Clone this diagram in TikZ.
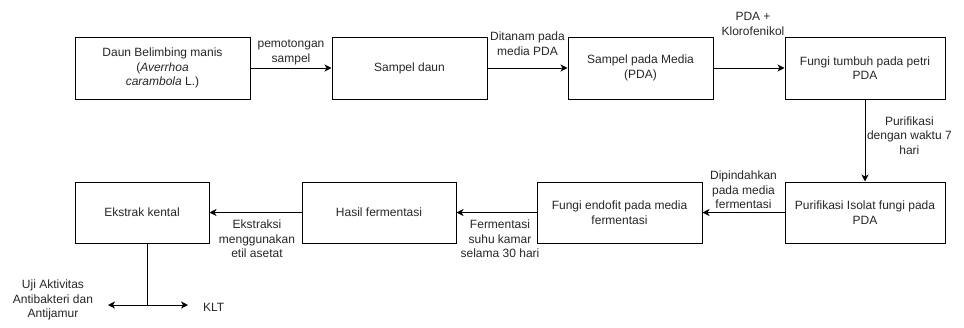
\documentclass[tikz,border=0pt]{standalone}
\usepackage{fontspec}
\setmainfont{Liberation Sans}
\usepackage{xcolor}
\usepackage{tikz}
\usetikzlibrary{arrows.meta, positioning}
\definecolor{flowtext}{HTML}{262626}

\begin{document}
\begin{tikzpicture}[x=1pt, y=-1pt,
  stage/.style={
    rectangle, draw=black, line width=1pt,
    minimum height=62pt, inner sep=0pt, align=center,
    text=flowtext, font=\fontsize{12}{14.5}\selectfont},
  note/.style={
    inner sep=0pt, align=center,
    text=flowtext, font=\fontsize{12}{14.5}\selectfont},
  flow/.style={-{Stealth[length=7pt, width=7pt, inset=2pt]}, line width=1pt},
]
  \useasboundingbox (0,0) rectangle (964,327);

  \node[stage, minimum width=175pt] (daun) at (162.5,68) {Daun Belimbing manis\\(\textit{Averrhoa}\\\textit{carambola} L.)};
  \node[stage, minimum width=155pt] (sampel) at (409.5,68) {Sampel daun};
  \node[stage, minimum width=145pt] (media) at (640.5,68) {Sampel pada Media\\(PDA)};
  \node[stage, minimum width=160pt] (petri) at (865,68) {Fungi tumbuh pada petri\\PDA};

  \node[stage, minimum width=160pt, minimum height=61pt] (isolat) at (865,212.5) {Purifikasi Isolat fungi pada\\PDA};
  \node[stage, minimum width=165pt, minimum height=61pt] (endofit) at (619.5,212.5) {Fungi endofit pada media\\fermentasi};
  \node[stage, minimum width=154pt, minimum height=61pt] (hasil) at (379,212.5) {Hasil fermentasi};
  \node[stage, minimum width=134pt, minimum height=61pt] (ekstrak) at (142,212.5) {Ekstrak kental};

  % Top row
  \draw[flow] (daun) -- node[note, above=3pt] {pemotongan\\sampel} (sampel);
  \draw[flow] (sampel) -- node[note, above=12pt] {Ditanam pada\\media PDA} (media);
  \draw[flow] (media) -- node[note, above=32pt, xshift=4pt] {PDA +\\Klorofenikol} (petri);

  % Down
  \draw[flow] (petri) -- node[note, right=1.5pt, yshift=5pt] {Purifikasi\\dengan waktu 7\\hari} (isolat);

  % Bottom row
  \draw[flow] (isolat) -- node[note, above=3pt] {Dipindahkan\\pada media\\fermentasi} (endofit);
  \draw[flow] (endofit) -- node[note, below=7pt, xshift=3.5pt] {Fermentasi\\suhu kamar\\selama 30 hari} (hasil);
  \draw[flow] (hasil) -- node[note, below=7pt, xshift=1.5pt] {Ekstraksi\\menggunakan\\etil asetat} (ekstrak);

  % Split to tests
  \coordinate (split) at (147,305);
  \coordinate (ujiend) at (108,305);
  \coordinate (kltend) at (188,305);
  \node[note] (uji) at (53,300) {Uji Aktivitas\\Antibakteri dan\\Antijamur};
  \node[note, anchor=west] (klt) at (203,307) {KLT};
  \draw[line width=1pt] (ekstrak.south -| split) -- (split);
  \draw[flow] (split) -- (ujiend);
  \draw[flow] (split) -- (kltend);
\end{tikzpicture}
\end{document}
